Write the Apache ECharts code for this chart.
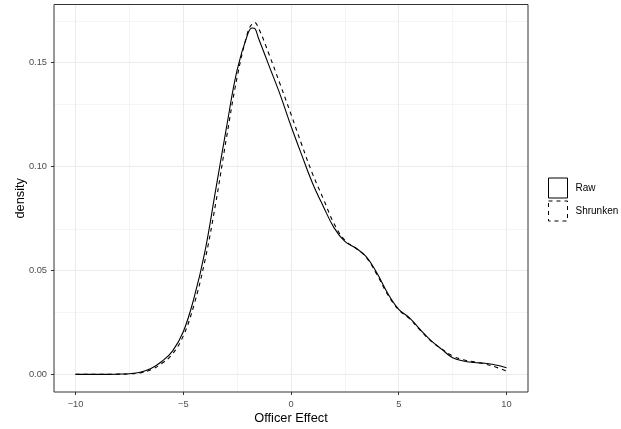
<!DOCTYPE html>
<html>
<head>
<meta charset="utf-8">
<script src="https://cdn.jsdelivr.net/npm/echarts@6/dist/echarts.min.js"></script>
<style>html,body{margin:0;padding:0;background:#fff}#c{width:621px;height:429px}</style>
</head>
<body>
<div id="c"></div>
<script>
const xGrid = [-10,-9.5,-9,-8.5,-8,-7.5,-7,-6.5,-6,-5.5,-5,-4.5,-4,-3.5,-3,-2.5,-2,-1.8,-1.7,-1.5,-1,-0.5,0,0.5,1,1.5,2,2.5,3,3.5,4,4.5,5,5.5,6,6.5,7,7.5,8,8.5,9,9.5,10];
const rawDensity = [0,0,0,0,0.0001,0.0003,0.0010,0.0028,0.0062,0.0112,0.0205,0.0368,0.0588,0.0885,0.1185,0.1465,0.1640,0.1667,0.1666,0.1615,0.1480,0.1345,0.1195,0.1055,0.0920,0.0808,0.0705,0.0640,0.0608,0.0565,0.0485,0.0388,0.0313,0.0272,0.0215,0.0162,0.0120,0.0080,0.0064,0.0057,0.0053,0.0045,0.0032];
const shrunkenDensity = [0,0,0,0,0.0001,0.0002,0.0007,0.0022,0.0052,0.0098,0.0185,0.0335,0.0545,0.0820,0.1135,0.1430,0.1650,0.1688,0.1694,0.1665,0.1535,0.1395,0.1252,0.1105,0.0965,0.0845,0.0725,0.0645,0.0608,0.0562,0.0478,0.0382,0.0310,0.0268,0.0212,0.0160,0.0122,0.0088,0.0070,0.0060,0.0050,0.0035,0.0016];
const xTicks = [-10,-5,0,5,10];
const xMinor = [-7.5,-2.5,2.5,7.5];
const yTicks = [0,0.05,0.10,0.15];
const yMinor = [0.025,0.075,0.125,0.175];
const seriesNames = ['Raw','Shrunken'];

const font = 'Liberation Sans, Arial, sans-serif';
const pair = (ys) => xGrid.map((x,i)=>[x, ys[i]]);
const gl = (vals, key, w) => vals.map(v => ({[key]: v, lineStyle:{color:'#ebebeb', width:w, type:'solid'}}));

const chart = echarts.init(document.getElementById('c'), null, {renderer:'canvas'});
chart.setOption({
  animation:false,
  backgroundColor:'#fff',
  grid:{left:54, top:4.5, width:474, height:387.5, show:true, borderColor:'#333', borderWidth:1, backgroundColor:'transparent', containLabel:false, outerBoundsMode:'none', z:4},
  xAxis:{type:'value', min:-11, max:11,
    axisLine:{show:false, onZero:false}, splitLine:{show:false},
    axisTick:{show:true, length:3, lineStyle:{color:'#333'}, customValues:xTicks},
    axisLabel:{customValues:xTicks, color:'#4d4d4d', fontSize:9.3, fontFamily:font, margin:7.5,
      formatter:v => (v<0 ? '\u2212'+Math.abs(v) : String(v))},
    name:'Officer Effect', nameLocation:'middle', nameGap:19.5, nameMoveOverlap:false,
    nameTextStyle:{color:'#000', fontSize:12.8, fontFamily:font}},
  yAxis:{type:'value', min:-0.0085, max:0.178,
    axisLine:{show:false, onZero:false}, splitLine:{show:false},
    axisTick:{show:true, length:3, lineStyle:{color:'#333'}, customValues:yTicks},
    axisLabel:{customValues:yTicks, color:'#4d4d4d', fontSize:9.3, fontFamily:font, margin:7,
      formatter:v => v.toFixed(2)},
    name:'density', nameLocation:'middle', nameGap:27, nameMoveOverlap:false,
    nameTextStyle:{color:'#000', fontSize:12.8, fontFamily:font}},
  legend:{orient:'vertical', left:548, top:177.5, padding:0, itemWidth:19, itemHeight:20, itemGap:2,
    textStyle:{fontSize:10, fontFamily:font, color:'#000', padding:[0,0,0,3]},
    data:[
      {name:seriesNames[0], icon:'rect', itemStyle:{color:'#fff', borderColor:'#000', borderWidth:1, borderType:'solid'}},
      {name:seriesNames[1], icon:'rect', itemStyle:{color:'#fff', borderColor:'#000', borderWidth:1, borderType:[4,4]}}
    ]},
  series:[
    {type:'line', name:'grid', data:[], silent:true, z:0,
      markLine:{silent:true, symbol:'none', z:0, label:{show:false}, animation:false,
        data:[].concat(gl(xMinor,'xAxis',0.5), gl(yMinor,'yAxis',0.5), gl(xTicks,'xAxis',1), gl(yTicks,'yAxis',1))}},
    {type:'line', name:seriesNames[0], data:pair(rawDensity), smooth:0.4, showSymbol:false, z:3,
      lineStyle:{color:'#000', width:1.1, type:'solid'}, itemStyle:{color:'#000'}},
    {type:'line', name:seriesNames[1], data:pair(shrunkenDensity), smooth:0.4, showSymbol:false, z:2,
      lineStyle:{color:'#000', width:1.1, type:[4,4]}, itemStyle:{color:'#000'}}
  ]
});
</script>
</body>
</html>
